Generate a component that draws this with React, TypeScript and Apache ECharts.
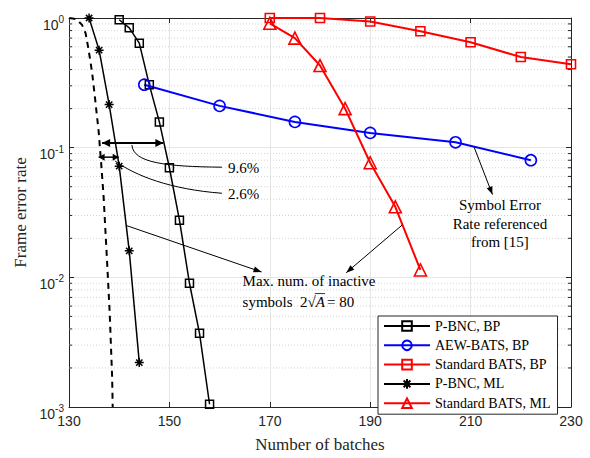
import React, { useEffect, useRef } from "react";
import * as echarts from "echarts";

// ---- data ----
const pbncBpX = [140, 142, 144, 146, 148, 150, 152, 154, 156, 158];
const pbncBpY = [0.97, 0.84, 0.64, 0.305, 0.158, 0.07, 0.0276, 0.009, 0.0037, 0.00105];
const aewX = [145, 160, 175, 190, 207, 222];
const aewY = [0.306, 0.21, 0.158, 0.13, 0.11, 0.08];
const stdBpX = [170, 180, 190, 200, 210, 220, 230];
const stdBpY = [1.0, 1.0, 0.94, 0.79, 0.65, 0.5, 0.44];
const pbncMlX = [134, 136, 138, 140, 142, 144];
const pbncMlY = [1.0, 0.565, 0.215, 0.072, 0.016, 0.0022];
const stdMlX = [170, 175, 180, 185, 190, 195, 200];
const stdMlY = [0.91, 0.7, 0.43, 0.2, 0.0765, 0.035, 0.0114];
const boundX = [130.1, 131.5, 132.6, 133.3, 133.9, 134.6, 135.2, 135.9, 136.4, 136.9, 137.6, 138.1, 138.6, 138.7];
const boundY = [1, 0.98, 0.885, 0.765, 0.57, 0.38, 0.238, 0.134, 0.0765, 0.0415, 0.0129, 0.0054, 0.00168, 0.001];

const xTicks = [130, 150, 170, 190, 210, 230];
const yMin = 0.001;
const yMax = 1;
const legendNames = ["P-BNC, BP", "AEW-BATS, BP", "Standard BATS, BP", "P-BNC, ML", "Standard BATS, ML"];

// minor log ticks (2..9 in each decade)
const minorTicks: number[] = [];
for (let e = -3; e < 0; e++) {
  for (let k = 2; k <= 9; k++) minorTicks.push(+(k * Math.pow(10, e)).toPrecision(3));
}

const pairs = (xs: number[], ys: number[]) => xs.map((x, i) => [x, ys[i]]);

const SERIF = "Liberation Serif, Times New Roman, serif";
const SANS = "Liberation Sans, Arial, Helvetica, sans-serif";
const AX = "#262626";

const STAR = "path://M0,-10L0,10M-10,0L10,0M-7,-7L7,7M-7,7L7,-7";

function head(tip: number[], from: number[], len: number, half: number, color: string) {
  const dx = tip[0] - from[0];
  const dy = tip[1] - from[1];
  const d = Math.hypot(dx, dy) || 1;
  const ux = dx / d, uy = dy / d;
  const bx = tip[0] - ux * len, by = tip[1] - uy * len;
  return {
    type: "polygon",
    shape: { points: [tip, [bx - uy * half, by + ux * half], [bx + uy * half, by - ux * half]] },
    style: { fill: color },
  };
}

function measure(text: string, font: string) {
  const c = document.createElement("canvas").getContext("2d")!;
  c.font = font;
  return c.measureText(text).width;
}

export default function App() {
  const ref = useRef<HTMLDivElement>(null);
  useEffect(() => {
    const chart = echarts.init(ref.current!, null, { renderer: "svg" });
    const lineW = 1.5;
    const font = `15px ${SERIF}`;

    const annotate = (params: any, api: any) => {
      const c = (x: number, y: number) => api.coord([x, y]);
      const ch: any[] = [];
      const seg = (a: number[], b: number[], w: number) => ({
        type: "line",
        shape: { x1: a[0], y1: a[1], x2: b[0], y2: b[1] },
        style: { stroke: "#000", lineWidth: w },
      });
      // big double arrow (9.6 %)
      let a = c(136.6, 0.1086), b = c(148.8, 0.1086);
      ch.push(seg(a, b, 2), head(a, b, 8, 4, "#000"), head(b, a, 8, 4, "#000"));
      // small double arrow (2.6 %)
      a = c(135.9, 0.0845); b = c(139.9, 0.0845);
      ch.push(seg(a, b, 1.5), head(a, b, 6, 3.5, "#000"), head(b, a, 6, 3.5, "#000"));
      // curved leaders
      const curve = (p: number[][]) => {
        const q = p.map((v) => c(v[0], v[1]));
        return {
          type: "bezierCurve",
          shape: { x1: q[0][0], y1: q[0][1], cpx1: q[1][0], cpy1: q[1][1], cpx2: q[2][0], cpy2: q[2][1], x2: q[3][0], y2: q[3][1] },
          style: { stroke: "#000", lineWidth: 1, fill: null },
        };
      };
      ch.push(curve([[142.53, 0.1048], [142.79, 0.0765], [149.15, 0.0714], [160.47, 0.0707]]));
      ch.push(curve([[139.2, 0.0788], [143.17, 0.061], [150.12, 0.0477], [160.47, 0.0445]]));
      // straight leader arrows
      const leader = (p: number[], q: number[]) => {
        const A = c(p[0], p[1]), B = c(q[0], q[1]);
        ch.push(seg(A, B, 1), head(B, A, 8, 3, "#000"));
      };
      leader([141.54, 0.025], [168.35, 0.011]);
      leader([196.36, 0.0253], [185.23, 0.01086]);
      leader([210.71, 0.1007], [214.35, 0.0435]);
      // texts
      const txt = (s: string, x: number, y: number, align: string) => {
        const p = c(x, y);
        ch.push({
          type: "text",
          x: p[0],
          y: p[1],
          style: { text: s, font, fill: "#000", align, verticalAlign: "middle" },
        });
        return p;
      };
      txt("9.6%", 161.66, 0.0701, "left");
      txt("2.6%", 161.66, 0.0437, "left");
      txt("Max. num. of inactive", 164.58, 0.0094, "left");
      const pre = "symbols  2\u221A";
      const p = txt(pre, 164.58, 0.0065, "left");
      const w0 = measure(pre, font);
      const italicFont = `italic 15px ${SERIF}`;
      const wA = measure("A", italicFont);
      ch.push({
        type: "text",
        x: p[0] + w0,
        y: p[1],
        style: { text: "A", font: italicFont, fill: "#000", align: "left", verticalAlign: "middle" },
      });
      ch.push({
        type: "text",
        x: p[0] + w0 + wA + 2,
        y: p[1],
        style: { text: "= 80", font, fill: "#000", align: "left", verticalAlign: "middle" },
      });
      ch.push({
        type: "line",
        shape: { x1: p[0] + w0 - 1, y1: p[1] - 8, x2: p[0] + w0 + wA, y2: p[1] - 8 },
        style: { stroke: "#000", lineWidth: 0.8 },
      });
      txt("Symbol Error", 215.84, 0.0361, "center");
      txt("Rate referenced", 215.84, 0.026, "center");
      txt("from [15]", 215.84, 0.0188, "center");
      return { type: "group", children: ch };
    };

    const minorGrid = (params: any, api: any) => {
      const v = api.value(1);
      const l = api.coord([130, v]);
      const r = api.coord([230, v]);
      return {
        type: "group",
        children: [
          {
            type: "line",
            shape: { x1: l[0], y1: l[1], x2: r[0], y2: r[1] },
            style: { stroke: "#d4d4d4", lineWidth: 1, lineDash: [1, 2] },
          },
          {
            type: "line",
            shape: { x1: l[0], y1: l[1], x2: l[0] + 3, y2: l[1] },
            style: { stroke: AX, lineWidth: 1 },
          },
          {
            type: "line",
            shape: { x1: r[0] - 3, y1: r[1], x2: r[0], y2: r[1] },
            style: { stroke: AX, lineWidth: 1 },
          },
        ],
      };
    };

    const yLabel = (v: number) => `{b|10}{s|${Math.round(Math.log10(v))}}`;

    const option: any = {
      animation: false,
      backgroundColor: "#fff",
      grid: { left: 69, right: 19, top: 18, bottom: 45, containLabel: false },
      xAxis: [
        {
          type: "value",
          min: 130,
          max: 230,
          interval: 20,
          position: "bottom",
          name: "Number of batches",
          nameLocation: "middle",
          nameGap: 29,
          nameTextStyle: { fontFamily: SERIF, fontSize: 17, color: AX },
          axisLine: { lineStyle: { color: AX, width: 1 } },
          axisTick: { inside: true, length: 5, lineStyle: { color: AX } },
          axisLabel: {
            fontFamily: SANS,
            fontSize: 14,
            color: AX,
            margin: 7,
            customValues: xTicks,
          },
          splitLine: { show: true, lineStyle: { color: "#e6e6e6", width: 1 } },
        },
        {
          type: "value",
          min: 130,
          max: 230,
          interval: 20,
          position: "top",
          axisLine: { show: true, lineStyle: { color: AX, width: 1 } },
          axisTick: { inside: true, length: 5, lineStyle: { color: AX } },
          axisLabel: { show: false },
          splitLine: { show: false },
        },
      ],
      yAxis: [
        {
          type: "log",
          logBase: 10,
          min: yMin,
          max: yMax,
          position: "left",
          name: "Frame error rate",
          nameLocation: "middle",
          nameGap: 38,
          nameTextStyle: { fontFamily: SERIF, fontSize: 17, color: AX },
          axisLine: { show: true, lineStyle: { color: AX, width: 1 } },
          axisTick: { inside: true, length: 5, lineStyle: { color: AX } },
          axisLabel: {
            formatter: yLabel,
            margin: 5,
            padding: [7, 0, 0, 0],
            rich: {
              b: { fontFamily: SANS, fontSize: 14, color: AX, lineHeight: 14, padding: [6, 0, 0, 0] },
              s: { fontFamily: SANS, fontSize: 10, color: AX, lineHeight: 10, verticalAlign: "top" },
            },
          },
          splitLine: { show: true, lineStyle: { color: "#e6e6e6", width: 1 } },
        },
        {
          type: "log",
          logBase: 10,
          min: yMin,
          max: yMax,
          position: "right",
          axisLine: { show: true, lineStyle: { color: AX, width: 1 } },
          axisTick: { inside: true, length: 5, lineStyle: { color: AX } },
          axisLabel: { show: false },
          splitLine: { show: false },
        },
      ],
      legend: {
        data: legendNames,
        orient: "vertical",
        left: 378,
        top: 316,
        itemWidth: 46,
        itemHeight: 12,
        itemGap: 5.3,
        padding: [3, 7, 4, 5],
        borderColor: AX,
        borderWidth: 1,
        backgroundColor: "#fff",
        textStyle: { fontFamily: SERIF, fontSize: 14, color: "#000" },
        z: 20,
      },
      series: [
        {
          type: "custom",
          name: "minor",
          data: minorTicks.map((v) => [130, v]),
          renderItem: minorGrid,
          clip: false,
          silent: true,
          z: 1,
        },
        {
          type: "line",
          name: "bound",
          data: pairs(boundX, boundY),
          symbol: "none",
          lineStyle: { color: "#000", width: 2, type: [6, 5] },
          clip: false,
          z: 3,
        },
        {
          type: "line",
          name: legendNames[0],
          data: pairs(pbncBpX, pbncBpY),
          symbol: "rect",
          symbolSize: 8,
          lineStyle: { color: "#000", width: lineW },
          itemStyle: { color: "rgba(255,255,255,0)", borderColor: "#000", borderWidth: 1.5 },
          clip: false,
          z: 4,
        },
        {
          type: "line",
          name: legendNames[1],
          data: pairs(aewX, aewY),
          symbol: "circle",
          symbolSize: 11,
          lineStyle: { color: "#0000ff", width: 2 },
          itemStyle: { color: "rgba(255,255,255,0)", borderColor: "#0000ff", borderWidth: 1.6 },
          clip: false,
          z: 4,
        },
        {
          type: "line",
          name: legendNames[2],
          data: pairs(stdBpX, stdBpY),
          symbol: "rect",
          symbolSize: 9,
          lineStyle: { color: "#ff0000", width: 2 },
          itemStyle: { color: "rgba(255,255,255,0)", borderColor: "#ff0000", borderWidth: 1.6 },
          clip: false,
          z: 4,
        },
        {
          type: "line",
          name: legendNames[3],
          data: pairs(pbncMlX, pbncMlY),
          symbol: STAR,
          symbolSize: 9,
          lineStyle: { color: "#000", width: lineW },
          itemStyle: { color: "rgba(0,0,0,0)", borderColor: "#000", borderWidth: 1.5 },
          clip: false,
          z: 4,
        },
        {
          type: "line",
          name: legendNames[4],
          data: pairs(stdMlX, stdMlY),
          symbol: "triangle",
          symbolSize: 12,
          lineStyle: { color: "#ff0000", width: 2 },
          itemStyle: { color: "rgba(255,255,255,0)", borderColor: "#ff0000", borderWidth: 1.6 },
          clip: false,
          z: 4,
        },
        {
          type: "custom",
          name: "annotations",
          data: [[130, 1]],
          renderItem: annotate,
          clip: false,
          silent: true,
          z: 10,
        },
      ],
    };
    chart.setOption(option);
    return () => chart.dispose();
  }, []);
  return (
    <div
      ref={ref}
      style={{ position: "fixed", left: 0, top: 0, width: 590, height: 458, background: "#fff" }}
    />
  );
}
